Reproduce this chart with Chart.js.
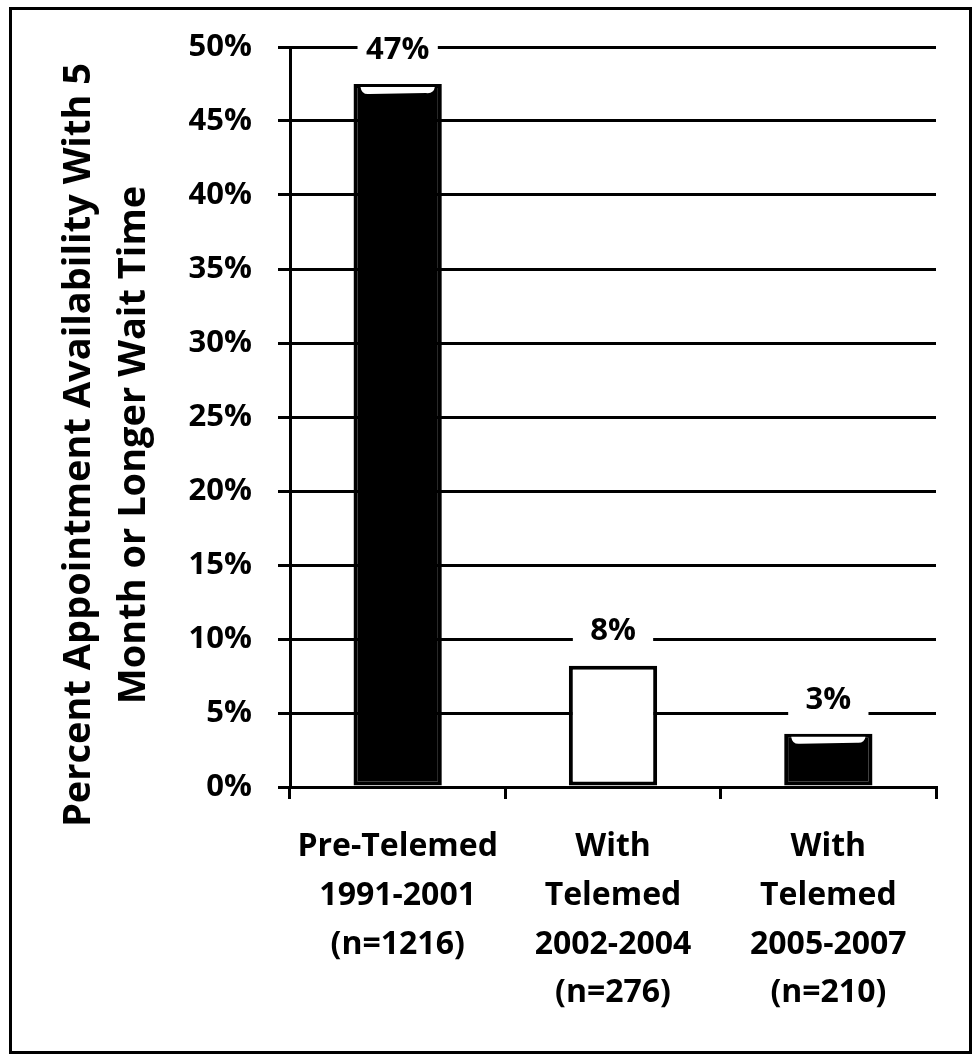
<!DOCTYPE html>
<html>
<head>
<meta charset="utf-8">
<script src="https://cdn.jsdelivr.net/npm/chart.js@4.4.1/dist/chart.umd.min.js"></script>
<style>
  html, body { margin: 0; padding: 0; background: #fff; }
  #wrap { position: relative; width: 972px; height: 1055px; }
  #frame { position: absolute; left: 9px; top: 7px; width: 963px; height: 1047px;
           box-sizing: border-box; border: 3px solid #000; pointer-events: none; }
</style>
</head>
<body>
<div id="wrap">
  <canvas id="waitChart"></canvas>
  <div id="frame"></div>
</div>
<script>
// data
const categories = [
  ['Pre-Telemed', '1991-2001', '(n=1216)'],
  ['With', 'Telemed', '2002-2004', '(n=276)'],
  ['With', 'Telemed', '2005-2007', '(n=210)']
];
const percentValues = [47.5, 8.2, 3.6];
const valueLabels = ['47%', '8%', '3%'];
const yTitle = ['Percent Appointment Availability With 5', 'Month or Longer Wait Time'];

const barFill = ['#000', '#fff', '#000'];
const FONT = '"Open Sans"';
const WEIGHT = 'bold';

// labels above bars, on a white patch that hides the grid line
const valueLabelPlugin = {
  id: 'valueLabels',
  afterDatasetsDraw(chart) {
    const ctx = chart.ctx;
    const meta = chart.getDatasetMeta(0);
    ctx.save();
    meta.data.forEach((bar, i) => {
      const w = bar.width;
      const top = Math.min(bar.y, bar.base);
      // shine on the black bars
      if (barFill[i] === '#000') {
        const l = bar.x - w / 2, r = bar.x + w / 2;
        ctx.fillStyle = '#fff';
        ctx.beginPath();
        ctx.moveTo(l + 7, top + 3);
        ctx.lineTo(r - 7, top + 3);
        ctx.quadraticCurveTo(r - 8, top + 10, r - 16, top + 9);
        ctx.lineTo(l + 16, top + 10);
        ctx.quadraticCurveTo(l + 8, top + 11, l + 7, top + 3);
        ctx.fill();
      }
      const cy = top - 34;
      ctx.fillStyle = '#fff';
      ctx.fillRect(bar.x - w / 2 + 4, cy - 19, w - 8, 38);
      ctx.fillStyle = '#000';
      ctx.font = WEIGHT + ' 31px ' + FONT;
      ctx.textAlign = 'center';
      ctx.textBaseline = 'middle';
      ctx.fillText(valueLabels[i], bar.x, cy);
    });
    ctx.restore();
  }
};

// two-line rotated axis title
const yTitlePlugin = {
  id: 'yTitle',
  afterDraw(chart) {
    const ctx = chart.ctx;
    ctx.save();
    ctx.translate(79, 445);
    ctx.rotate(-Math.PI / 2);
    ctx.fillStyle = '#000';
    ctx.font = WEIGHT + ' 38px ' + FONT;
    ctx.textAlign = 'center';
    ctx.textBaseline = 'middle';
    yTitle.forEach((line, i) => ctx.fillText(line, 0, i * 55));
    ctx.restore();
  }
};

const dataWait = {
  labels: categories,
  datasets: [{
    data: percentValues,
    backgroundColor: barFill,
    borderColor: '#000',
    borderWidth: 4,
    borderSkipped: false,
    categoryPercentage: 1,
    barPercentage: 0.41
  }]
};

const configWait = {
  type: 'bar',
  data: dataWait,
  options: {
    responsive: true,
    maintainAspectRatio: false,
    animation: false,
    layout: { padding: { top: 47, right: 36, bottom: 0, left: 0 } },
    plugins: { legend: { display: false }, tooltip: { enabled: false } },
    scales: {
      x: {
        afterFit: (s) => { s.height = 268; },
        grid: { offset: true, drawOnChartArea: false, drawTicks: true, tickLength: 12, color: '#000', lineWidth: 3 },
        border: { display: true, color: '#000', width: 3 },
        ticks: {
          color: '#000', padding: 23, maxRotation: 0, autoSkip: false,
          font: { family: FONT, size: 32, weight: WEIGHT, lineHeight: 1.53 }
        }
      },
      y: {
        min: 0, max: 50,
        afterFit: (s) => { s.width = 290; },
        grid: { color: '#000', lineWidth: 3, drawTicks: true, tickLength: 12 },
        border: { display: true, color: '#000', width: 3 },
        ticks: {
          stepSize: 5, color: '#000', padding: 26,
          font: { family: FONT, size: 31, weight: WEIGHT },
          callback: (v) => v + '%'
        }
      }
    }
  },
  plugins: [valueLabelPlugin, yTitlePlugin]
};

const waitChart = new Chart(document.getElementById('waitChart'), configWait);
</script>
</body>
</html>
